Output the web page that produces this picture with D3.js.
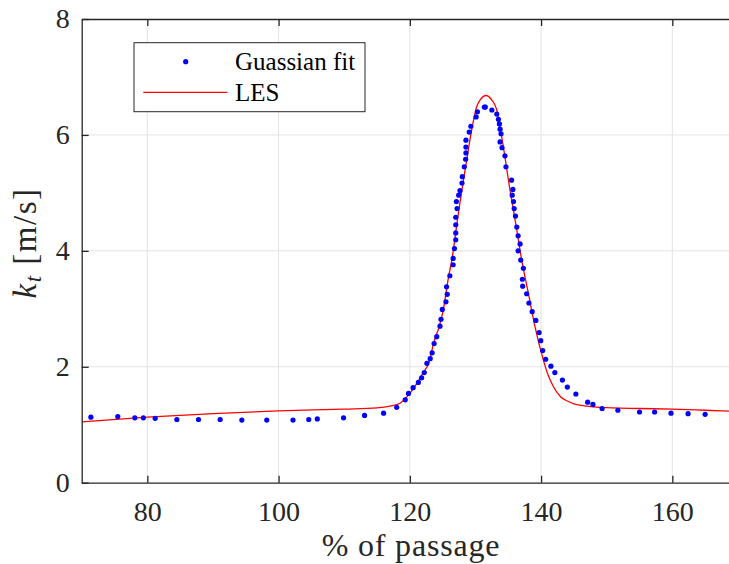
<!DOCTYPE html>
<html>
<head>
<meta charset="utf-8">
<script src="https://cdn.jsdelivr.net/npm/d3@7"></script>
<style>
  html, body { margin: 0; padding: 0; background: #fff; }
  svg { display: block; }
</style>
</head>
<body>
<svg id="chart" width="729" height="564"></svg>
<script>
// Gaussian fit samples: % of passage vs k_t [m/s]
const fitX = [71.4, 75.5, 78.1, 79.4, 81.2, 84.5, 87.8, 91.1, 94.4, 98.2, 102.2, 104.6, 105.9, 109.9, 113.1, 116.0,
  118.0, 119.3, 119.8, 120.5, 121.3, 121.8, 122.2, 122.6, 123.1, 123.4, 123.7, 124.1, 124.6, 124.75, 124.95,
  125.5, 125.7, 125.6, 126.1, 126.6, 126.6, 126.8, 127.0, 127.0, 127.0, 127.0, 127.2, 127.1, 127.45, 127.65,
  127.95, 128.0, 128.3, 128.5, 128.55, 128.55, 128.55, 129.05, 129.3, 130.1, 130.3, 131.35, 131.5, 132.5,
  133.25, 133.5, 133.65, 133.75, 133.9, 133.75, 134.05, 134.5, 134.65, 135.5, 135.7, 135.6, 135.8, 135.9,
  136.1, 136.3, 136.5, 136.8, 136.5, 136.9, 137.3, 137.15, 137.2, 137.8, 138.15, 138.65, 139.2, 139.7,
  139.95, 140.25, 140.7, 141.5, 142.1, 143.25, 144.0, 145.3, 147.1, 147.9, 149.3, 151.7, 155.0, 157.3,
  159.8, 162.4, 165.0];
const fitY = [1.13, 1.14, 1.12, 1.12, 1.11, 1.09, 1.09, 1.09, 1.08, 1.08, 1.08, 1.09, 1.10, 1.12, 1.16, 1.20,
  1.30, 1.43, 1.54, 1.64, 1.73, 1.81, 1.90, 2.06, 2.14, 2.24, 2.40, 2.52, 2.70, 2.82, 2.99,
  3.12, 3.25, 3.38, 3.57, 3.76, 3.87, 4.04, 4.19, 4.31, 4.45, 4.58, 4.73, 4.85, 4.96, 5.04,
  5.17, 5.28, 5.45, 5.58, 5.69, 5.79, 5.91, 6.05, 6.15, 6.31, 6.40, 6.48, 6.48, 6.43,
  6.36, 6.27, 6.19, 6.10, 6.02, 5.88, 5.78, 5.64, 5.45, 5.22, 5.06, 4.96, 4.85, 4.73,
  4.60, 4.41, 4.26, 4.12, 4.00, 3.84, 3.70, 3.51, 3.39, 3.26, 3.10, 2.95, 2.80, 2.59,
  2.45, 2.28, 2.13, 2.01, 1.90, 1.77, 1.65, 1.53, 1.39, 1.35, 1.28, 1.25, 1.22, 1.22,
  1.20, 1.19, 1.18];

// LES profile
const lesX = [70, 80, 90, 100, 110, 115, 117, 118.5, 120, 121, 122, 123, 123.6, 124.5, 125.1, 125.9, 126.4,
  127.4, 128.67, 129.43, 130.2, 130.7, 131.6, 132.5, 133.2, 134.24, 135.26, 136.3, 137.05, 137.55, 138.06,
  139.08, 140.34, 141.0, 141.87, 143.0, 144.0, 145.0, 147.0, 149.0, 155.0, 160.0, 165.0, 170.0];
const lesY = [1.05, 1.13, 1.19, 1.24, 1.27, 1.29, 1.32, 1.37, 1.54, 1.70, 1.89, 2.10, 2.40, 2.70, 2.98, 3.55, 3.84,
  4.65, 5.57, 6.09, 6.49, 6.60, 6.68, 6.60, 6.45, 5.80, 5.05, 4.36, 3.84, 3.55, 3.27,
  2.69, 2.12, 1.88, 1.66, 1.48, 1.41, 1.36, 1.32, 1.30, 1.28, 1.27, 1.25, 1.23];

const xTicks = [80, 100, 120, 140, 160];
const yTicks = [0, 2, 4, 6, 8];
const xDomain = [70, 170];
const yDomain = [0, 8];

// pick the first installed serif face
function pickSerif() {
  const ctx = document.createElement("canvas").getContext("2d");
  const sample = "mmmwwwiiilll 0123456789 Guassian";
  ctx.font = "40px monospace";
  const base = ctx.measureText(sample).width;
  const names = ["Liberation Serif", "Times New Roman", "Tinos", "DejaVu Serif", "Noto Serif", "FreeSerif", "Nimbus Roman"];
  for (const n of names) {
    ctx.font = `40px "${n}", monospace`;
    if (Math.abs(ctx.measureText(sample).width - base) > 0.5) return `"${n}", serif`;
  }
  return "serif";
}
const serifFamily = pickSerif();

const svg = d3.select("#chart");
const mLeft = 81.7, mTop = 19, mBottom = 482.7;
const mRight = mLeft + 656.25;

const x = d3.scaleLinear().domain(xDomain).range([mLeft, mRight]);
const y = d3.scaleLinear().domain(yDomain).range([mBottom, mTop]);

const axisColor = "#262626";
const gridColor = "#e3e3e3";

// grid
const grid = svg.append("g");
grid.selectAll("line.gx").data(xTicks).join("line").attr("class", "gx")
  .attr("x1", d => x(d)).attr("x2", d => x(d))
  .attr("y1", mTop).attr("y2", mBottom)
  .attr("stroke", gridColor).attr("stroke-width", 1);
grid.selectAll("line.gy").data(yTicks.filter(d => d > 0 && d < 8)).join("line").attr("class", "gy")
  .attr("x1", mLeft).attr("x2", mRight)
  .attr("y1", d => y(d)).attr("y2", d => y(d))
  .attr("stroke", gridColor).attr("stroke-width", 1);

// data clip
svg.append("clipPath").attr("id", "plotClip")
  .append("rect").attr("x", mLeft).attr("y", mTop).attr("width", mRight - mLeft).attr("height", mBottom - mTop);

const plot = svg.append("g").attr("clip-path", "url(#plotClip)");

const les = lesX.map((v, i) => [v, lesY[i]]);
plot.append("path")
  .datum(les)
  .attr("fill", "none")
  .attr("stroke", "#ff0000")
  .attr("stroke-width", 1.3)
  .attr("d", d3.line().x(d => x(d[0])).y(d => y(d[1])).curve(d3.curveMonotoneX));

plot.selectAll("circle.fit").data(fitX.map((v, i) => [v, fitY[i]])).join("circle")
  .attr("class", "fit")
  .attr("cx", d => x(d[0])).attr("cy", d => y(d[1]))
  .attr("r", 2.6).attr("fill", "#0000ff");

// axes
function styleAxis(g) {
  g.attr("font-family", serifFamily).attr("font-size", 28);
  g.select(".domain").attr("stroke", axisColor).attr("stroke-width", 1.3);
  g.selectAll(".tick line").attr("stroke", axisColor).attr("stroke-width", 1.3);
  g.selectAll(".tick text").attr("fill", axisColor);
}

svg.append("g").attr("transform", `translate(0,${mBottom})`)
  .call(d3.axisBottom(x).tickValues(xTicks).tickSizeInner(-7).tickSizeOuter(0).tickPadding(18))
  .call(styleAxis);

svg.append("g").attr("transform", `translate(0,${mTop})`)
  .call(d3.axisTop(x).tickValues(xTicks).tickSizeInner(-7).tickSizeOuter(0).tickFormat(""))
  .call(styleAxis);

svg.append("g").attr("transform", `translate(${mLeft},0)`)
  .call(d3.axisLeft(y).tickValues(yTicks).tickSizeInner(-7).tickSizeOuter(0).tickPadding(12))
  .call(styleAxis);

svg.append("g").attr("transform", `translate(${mRight},0)`)
  .call(d3.axisRight(y).tickValues(yTicks).tickSizeInner(-7).tickSizeOuter(0).tickFormat(""))
  .call(styleAxis);

// axis titles
svg.append("text")
  .attr("x", 411).attr("y", 556)
  .attr("text-anchor", "middle")
  .attr("font-family", serifFamily).attr("font-size", 32).attr("fill", axisColor)
  .attr("letter-spacing", 0.8)
  .text("% of passage");

const yl = svg.append("text")
  .attr("transform", "translate(36,243) rotate(-90)")
  .attr("text-anchor", "middle")
  .attr("font-family", serifFamily).attr("font-size", 33).attr("fill", axisColor)
  .attr("letter-spacing", 1.5);
yl.append("tspan").attr("font-style", "italic").text("k");
yl.append("tspan").attr("font-style", "italic").attr("font-size", 23).attr("dy", 5).text("t");
yl.append("tspan").attr("dy", -5).text(" [m/s]");

// legend
const lg = svg.append("g").attr("font-family", serifFamily).attr("font-size", 25).attr("fill", "#000");
lg.append("rect")
  .attr("x", 134).attr("y", 42.7).attr("width", 231).attr("height", 69)
  .attr("fill", "#fff").attr("stroke", axisColor).attr("stroke-width", 1);
lg.append("circle").attr("cx", 185.7).attr("cy", 61.7).attr("r", 2.6).attr("fill", "#0000ff");
lg.append("line").attr("x1", 143.3).attr("x2", 227.3).attr("y1", 92.3).attr("y2", 92.3)
  .attr("stroke", "#ff0000").attr("stroke-width", 1.3);
lg.append("text").attr("x", 235).attr("y", 69.5).text("Guassian fit");
lg.append("text").attr("x", 235).attr("y", 101.3).text("LES");
</script>
</body>
</html>
